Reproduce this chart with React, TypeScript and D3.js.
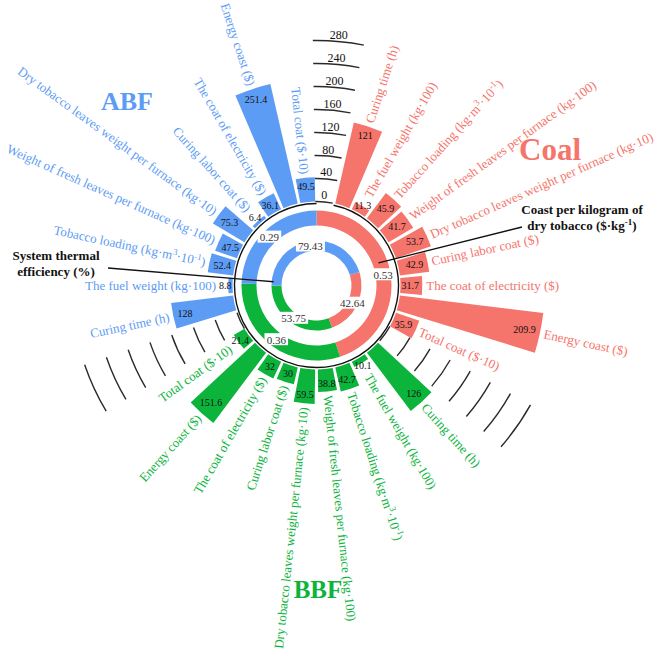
import React, { useEffect, useRef } from 'react';
import * as d3 from 'd3';

// bar categories, same order clockwise inside every group
const categories = [
  'Curing time (h)',
  'The fuel weight (kg·100)',
  'Tobacco loading (kg·m^{3}·10^{-1})',
  'Weight of fresh leaves per furnace (kg·100)',
  'Dry tobacco leaves weight per furnace (kg·10)',
  'Curing labor coat ($)',
  'The coat of electricity ($)',
  'Energy coast ($)',
  'Total coat ($·10)',
];

const coalValues = [121, 11.3, 45.9, 41.7, 53.7, 42.9, 31.7, 209.9, 35.9];
const bbfValues = [126, 10.1, 42.7, 38.8, 59.5, 30, 32, 151.6, 21.4];
const abfValues = [128, 8.8, 52.4, 47.5, 75.3, 6.4, 36.1, 251.4, 49.5];

const groups = ['Coal', 'BBF', 'ABF'];
// the original figure scales each group's bars a bit differently
const groupDomainMax = [234, 278, 330];
const costPerKg = [0.53, 0.36, 0.29];
const thermalEfficiency = [42.64, 53.75, 79.43];
const radialTicks = [0, 40, 80, 120, 160, 200, 240, 280];

const colors: Record<string, string> = { Coal: '#f5746b', BBF: '#0cb43c', ABF: '#5d9cf5' };
const font = '"Liberation Serif", "Times New Roman", serif';

// "a^{b}" -> tspans with superscript
function addRichText(sel: any, text: string) {
  const parts = text.split(/\^\{([^}]*)\}/);
  parts.forEach((p, i) => {
    if (!p) return;
    const t = sel.append('tspan').text(p);
    if (i % 2 === 1) {
      t.attr('baseline-shift', 'super').attr('font-size', '70%');
    }
  });
}

function App() {
  const ref = useRef<SVGSVGElement>(null);

  useEffect(() => {
    const svg = d3.select(ref.current);
    svg.selectAll('*').remove();

    const cx = 316.5;
    const cy = 285.5;
    const g = svg.append('g').attr('transform', `translate(${cx},${cy})`);
    const polar = (a: number, r: number) => [r * Math.sin(a), -r * Math.cos(a)];

    const valuesByGroup: Record<string, number[]> = { Coal: coalValues, BBF: bbfValues, ABF: abfValues };

    // one empty slot in front of each group, the gridlines go there
    const slots: any[] = [];
    groups.forEach((grp) => {
      slots.push({ key: `gap-${grp}`, gap: true, group: grp });
      categories.forEach((c, i) => {
        slots.push({ key: `${grp}-${i}`, gap: false, group: grp, category: c, value: valuesByGroup[grp][i] });
      });
    });

    const x = d3.scaleBand()
      .domain(slots.map((d) => d.key))
      .range([0, 2 * Math.PI])
      .paddingInner(0.15)
      .paddingOuter(0.075);
    const y = d3.scaleLinear().domain([0, 280]).range([84, 245]);
    const yGroup: Record<string, d3.ScaleLinear<number, number>> = {};
    groups.forEach((grp, i) => {
      yGroup[grp] = d3.scaleLinear().domain([0, groupDomainMax[i]]).range([84, 245]);
    });
    const bw = x.bandwidth();
    const step = x.step();

    // gridlines in the gaps
    slots.filter((d) => d.gap).forEach((d, gi) => {
      const a0 = (x(d.key) as number) - (step - bw) / 2 - 0.015;
      const a1 = a0 + step;
      radialTicks.forEach((t) => {
        const p = d3.path();
        p.arc(0, 0, y(t), a0 - Math.PI / 2, a1 - Math.PI / 2);
        g.append('path')
          .attr('d', p.toString())
          .attr('fill', 'none')
          .attr('stroke', '#2a2a2a')
          .attr('stroke-width', 1.4);
        if (gi === 0) {
          const [tx, ty] = polar((a0 + a1) / 2, y(t) + 2.5);
          g.append('text')
            .attr('x', tx)
            .attr('y', ty)
            .attr('text-anchor', 'middle')
            .attr('font-family', font)
            .attr('font-size', 12)
            .attr('fill', '#111')
            .text(t);
        }
      });
    });

    // black circle around the rings
    const circ = d3.path();
    circ.arc(0, 0, 82, step - Math.PI / 2, 2 * Math.PI - Math.PI / 2);
    g.append('path')
      .attr('d', circ.toString())
      .attr('fill', 'none')
      .attr('stroke', '#111')
      .attr('stroke-width', 1.4);

    // rings
    const outerPie = d3.pie<number>().sort(null)(costPerKg);
    const innerStart = 72.6 * Math.PI / 180;
    const innerPie = d3.pie<number>().sort(null)
      .startAngle(innerStart)
      .endAngle(innerStart + 2 * Math.PI)(thermalEfficiency);
    const outerArc = d3.arc<any>().innerRadius(60).outerRadius(75);
    const innerArc = d3.arc<any>().innerRadius(35).outerRadius(45);

    const drawRing = (pie: any[], arc: any) => {
      pie.forEach((d, i) => {
        g.append('path').attr('d', arc(d)).attr('fill', colors[groups[i]]);
      });
    };
    drawRing(outerPie, outerArc);
    drawRing(innerPie, innerArc);

    const ringLabel = (pie: any[], arc: any) => {
      pie.forEach((d) => {
        const [lx, ly] = arc.centroid(d);
        const txt = String(d.data);
        const w = txt.length * 5.4 + 2;
        g.append('rect')
          .attr('x', lx - w / 2)
          .attr('y', ly - 6.5)
          .attr('width', w)
          .attr('height', 12)
          .attr('fill', '#fff');
        g.append('text')
          .attr('x', lx)
          .attr('y', ly)
          .attr('dy', '0.35em')
          .attr('text-anchor', 'middle')
          .attr('font-family', font)
          .attr('font-size', 11)
          .attr('fill', '#333')
          .text(txt);
      });
    };
    ringLabel(outerPie, outerArc);
    ringLabel(innerPie, innerArc);

    // bars
    const barArc = d3.arc<any>();
    slots.filter((d) => !d.gap).forEach((d) => {
      const ys = yGroup[d.group];
      const a0 = x(d.key) as number;
      const a1 = a0 + bw;
      const am = (a0 + a1) / 2;
      const outer = ys(d.value);
      g.append('path')
        .attr('d', barArc({ innerRadius: ys(0), outerRadius: outer, startAngle: a0, endAngle: a1 }))
        .attr('fill', colors[d.group]);

      // value label inside the bar end
      const txt = String(d.value);
      const tw = txt.replace('.', '').length * 5 + (txt.includes('.') ? 2.5 : 0);
      const ext = Math.abs(Math.sin(am)) * tw / 2 + Math.abs(Math.cos(am)) * 3.5;
      const vr = Math.max(outer - 4 - ext, ys(0) + ext + 1);
      const [vx, vy] = polar(am, vr);
      g.append('text')
        .attr('x', vx)
        .attr('y', vy)
        .attr('dy', '0.35em')
        .attr('text-anchor', 'middle')
        .attr('font-family', font)
        .attr('font-size', 10)
        .attr('fill', '#111')
        .text(txt);

      // category label along the radius
      const lr = Math.max(outer + 4, vr + ext + 3);
      const [lx, ly] = polar(am, lr);
      const deg = am * 180 / Math.PI;
      const right = deg < 180;
      const label = g.append('text')
        .attr('transform', `translate(${lx},${ly}) rotate(${right ? deg - 90 : deg + 90})`)
        .attr('dy', '0.35em')
        .attr('text-anchor', right ? 'start' : 'end')
        .attr('font-family', font)
        .attr('font-size', 13)
        .attr('fill', colors[d.group]);
      addRichText(label, d.category);
    });

    // group titles
    const titles = [
      { name: 'Coal', x: 550, y: 160, size: 31 },
      { name: 'BBF', x: 318, y: 598, size: 25 },
      { name: 'ABF', x: 127, y: 110, size: 26 },
    ];
    titles.forEach((t) => {
      svg.append('text')
        .attr('x', t.x)
        .attr('y', t.y)
        .attr('text-anchor', 'middle')
        .attr('font-family', font)
        .attr('font-weight', 'bold')
        .attr('font-size', t.size)
        .attr('fill', colors[t.name])
        .text(t.name);
    });

    // annotations
    const [c1x, c1y] = polar(70 * Math.PI / 180, 66);
    svg.append('line')
      .attr('x1', cx + c1x).attr('y1', cy + c1y)
      .attr('x2', 522).attr('y2', 227)
      .attr('stroke', '#111').attr('stroke-width', 1.3);
    const [c2x, c2y] = polar(275 * Math.PI / 180, 43);
    svg.append('line')
      .attr('x1', cx + c2x).attr('y1', cy + c2y)
      .attr('x2', 108).attr('y2', 268)
      .attr('stroke', '#111').attr('stroke-width', 1.3);

    const note = (lines: string[], nx: number, ny: number) => {
      lines.forEach((l, i) => {
        const t = svg.append('text')
          .attr('x', nx)
          .attr('y', ny + i * 16)
          .attr('text-anchor', 'middle')
          .attr('font-family', font)
          .attr('font-weight', 'bold')
          .attr('font-size', 13)
          .attr('fill', '#111');
        addRichText(t, l);
      });
    };
    note(['Coast per kilogram of', 'dry tobacco ($·kg^{-1})'], 582, 214);
    note(['System thermal', 'efficiency (%)'], 56, 260);
  }, []);

  return (
    <svg
      ref={ref}
      width={660}
      height={652}
      style={{ position: 'absolute', left: 0, top: 0, background: '#fff' }}
    />
  );
}

export default App;
